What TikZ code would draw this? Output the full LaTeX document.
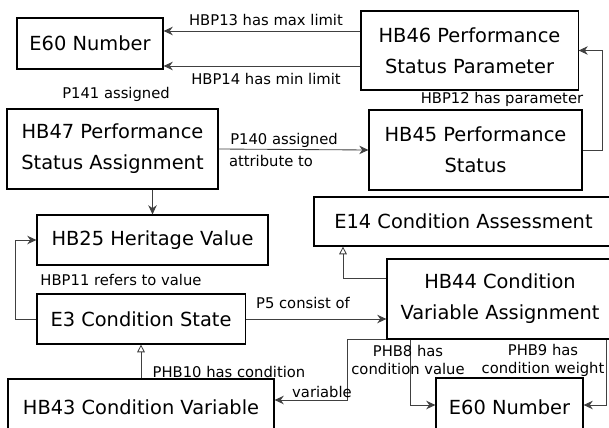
\documentclass[tikz,border=0pt]{standalone}
\usepackage{fontspec}
\setmainfont{DejaVu Sans}
\usetikzlibrary{arrows.meta}
\tikzstyle{box} = [draw, line width=0.8pt, align=center, inner sep=0pt, font=\fontsize{13.8}{22}\selectfont]
\tikzstyle{lbl} = [inner sep=0pt, align=center, font=\fontsize{10.5}{12.8}\selectfont]
\tikzstyle{conn} = [black!75, line width=0.6pt, -{Stealth[length=6.5pt,width=6pt]}]
\tikzstyle{isa} = [black!75, line width=0.6pt, -{Triangle[open,length=5.5pt,width=5.5pt]}]

\begin{document}
\begin{tikzpicture}[x=0.025cm, y=-0.025cm]
\fill[white] (0,0) rectangle (609,427);
\clip (0,0) rectangle (609,427);
%boxes
\node[box, minimum width=103.9pt, minimum height=36.3pt] (e60a) at (90,43.5) {E60 Number};
\node[box, minimum width=154.4pt, minimum height=56.2pt] (hb46) at (469.5,50.5) {HB46 Performance\\Status Parameter};
\node[box, minimum width=150.1pt, minimum height=56.9pt] (hb47) at (112.5,149) {HB47 Performance\\Status Assignment};
\node[box, minimum width=151.5pt, minimum height=56.9pt] (hb45) at (475.5,150) {HB45 Performance\\Status};
\node[box, minimum width=212.7pt, minimum height=34.9pt] (e14) at (463.5,221.5) {E14 Condition Assessment};
\node[box, minimum width=164.3pt, minimum height=35.6pt] (hb25) at (152.5,240) {HB25 Heritage Value};
\node[box, minimum width=148pt, minimum height=35.6pt] (e3) at (141,319) {E3 Condition State};
\node[box, minimum width=160.8pt, minimum height=56.9pt] (hb44) at (500,299) {HB44 Condition\\Variable Assignment};
\node[box, minimum width=189.2pt, minimum height=39.8pt] (hb43) at (141,407) {HB43 Condition Variable};
\node[box, minimum width=104.6pt, minimum height=41.3pt] (e60b) at (509.5,407) {E60 Number};

%helper points
\coordinate (ymax) at (0,31);
\coordinate (ymin) at (0,66);
\coordinate (yca) at (0,278);
\coordinate (xca) at (343,0);
\coordinate (yvar) at (0,400);
\coordinate (xvar) at (347,0);
\coordinate (xval) at (410,0);
\coordinate (xwgt) at (606,0);
\coordinate (ynum) at (0,405);

%arrows
\draw[conn] (hb46.west |- ymax) -- (e60a.east |- ymax);
\draw[conn] (hb46.west |- ymin) -- (e60a.east |- ymin);
\draw[conn] (hb45.east) -- ++(20,0) |- (hb46.east);
\draw[conn] (hb47.east) -- (hb45.west);
\draw[conn] (hb47.south -| hb25.north) -- (hb25.north);
\draw[conn] (e3.west) -- ++(-21,0) |- (hb25.west);
\draw[conn] (e3.east) -- (hb44.west |- e3.east);
\draw[isa] (hb44.west |- yca) -| (e14.south -| xca);
\draw[isa] (hb43.north) -- (e3.south);
\draw[conn] (hb44.south west) -| (xvar |- yvar) -- (hb43.east |- yvar);
\draw[conn] (hb44.south -| xval) |- (e60b.west |- ynum);
\draw[conn] (hb44.south -| xwgt) |- (e60b.east |- ynum);

%labels
\node[lbl] (l13) at (266,20) {HBP13 has max limit};
\node[lbl] (l14) at (266,79) {HBP14 has min limit};
\node[lbl] (l141) at (116,94) {P141 assigned};
\node[lbl] (l12) at (502,99) {HBP12 has parameter};
\node[lbl] (l140a) at (284,140) {P140 assigned};
\node[lbl] (l140b) at (271,161) {attribute to};
\node[lbl] (l11) at (121,280) {HBP11 refers to value};
\node[lbl] (l5) at (303,303) {P5 consist of};
\node[lbl] (l10a) at (229,372) {PHB10 has condition};
\node[lbl] (l10b) at (322,392) {variable};
\node[lbl] (l8) at (408,360) {PHB8 has\\condition value};
\node[lbl] (l9) at (543,360) {PHB9 has\\condition weight};
\end{tikzpicture}
\end{document}
